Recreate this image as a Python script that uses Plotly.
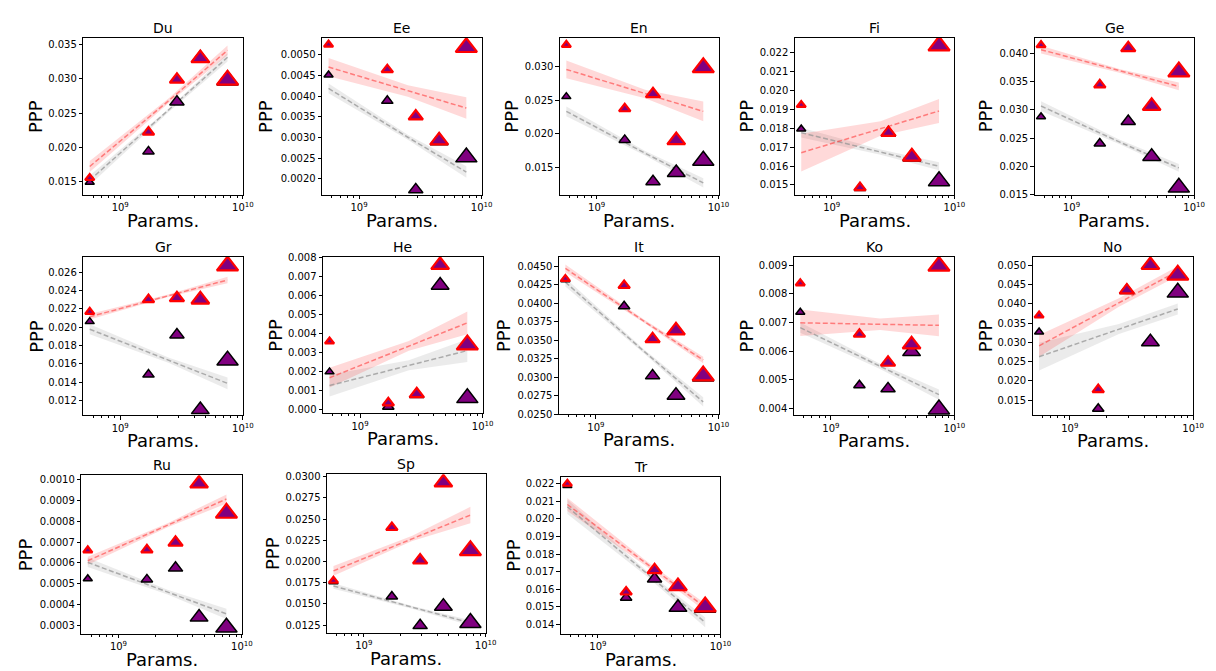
import math
import plotly.graph_objects as go

# ---------------- data ----------------
langs = ["Du", "Ee", "En", "Fi", "Ge", "Gr", "He", "It", "Ko", "No", "Ru", "Sp", "Tr"]
params = [5.64e8, 1.7e9, 2.9e9, 4.5e9, 7.5e9]
fit_x = [5.64e8, 2.5e9, 7.5e9]

red_ppp = [
    [0.01547, 0.02220, 0.02990, 0.03303, 0.02985],
    [0.00525, 0.004643, 0.003516, 0.002928, 0.005183],
    [0.03321, 0.02372, 0.02591, 0.01904, 0.02985],
    [0.01924, 0.01486, 0.01777, 0.01650, 0.02238],
    [0.04144, 0.03443, 0.04092, 0.03069, 0.03672],
    [0.02169, 0.02302, 0.02320, 0.02302, 0.02672],
    [0.003587, 0.000359, 0.000823, 0.007605, 0.003416],
    [0.04331, 0.04242, 0.03518, 0.03633, 0.03020],
    [0.00837, 0.00659, 0.00560, 0.00623, 0.00897],
    [0.03700, 0.01774, 0.04358, 0.05009, 0.04752],
    [0.000660, 0.000662, 0.000697, 0.000981, 0.000839],
    [0.01773, 0.02400, 0.02013, 0.02930, 0.02129],
    [0.02200, 0.01584, 0.01709, 0.01616, 0.01500],
]
purple_ppp = [
    [0.01485, 0.01937, 0.02663, 0.03300, 0.02980],
    [0.004516, 0.003889, 0.00174, 0.00292, 0.002524],
    [0.02552, 0.01909, 0.01291, 0.01422, 0.01602],
    [0.01797, 0.01484, 0.01775, 0.01648, 0.01521],
    [0.02879, 0.02408, 0.02799, 0.02178, 0.01632],
    [0.02062, 0.01483, 0.01918, 0.01099, 0.01638],
    [0.00199, 0.000153, 0.00080, 0.00654, 0.000617],
    [0.04320, 0.03962, 0.03020, 0.02753, 0.03010],
    [0.00736, 0.00481, 0.00469, 0.00598, 0.00397],
    [0.03271, 0.01278, 0.04350, 0.03015, 0.04298],
    [0.000523, 0.000520, 0.000575, 0.000338, 0.000289],
    [0.01760, 0.01587, 0.01246, 0.01471, 0.01277],
    [0.02190, 0.01552, 0.01659, 0.01496, 0.01495],
]
# fitted trend values read at fit_x (start, middle, end)
red_fit = [
    [0.01716, 0.02685, 0.03420],
    [0.004706, 0.004127, 0.003714],
    [0.02956, 0.02591, 0.02333],
    [0.01671, 0.01799, 0.01892],
    [0.04063, 0.03684, 0.03414],
    [0.02115, 0.02347, 0.02517],
    [0.001681, 0.003357, 0.004566],
    [0.04473, 0.03752, 0.03233],
    [0.00699, 0.00694, 0.00690],
    [0.02912, 0.04037, 0.04855],
    [0.000610, 0.000781, 0.000907],
    [0.01889, 0.02271, 0.02547],
    [0.02082, 0.01744, 0.01497],
]
gray_fit = [
    [0.01514, 0.02543, 0.03317],
    [0.004190, 0.003008, 0.002166],
    [0.02333, 0.01711, 0.01271],
    [0.01777, 0.01674, 0.01599],
    [0.03069, 0.02428, 0.01977],
    [0.01979, 0.01638, 0.01387],
    [0.001269, 0.002334, 0.003107],
    [0.04287, 0.03342, 0.02665],
    [0.00682, 0.00547, 0.00448],
    [0.02630, 0.03348, 0.03870],
    [0.000602, 0.000459, 0.000354],
    [0.01711, 0.01459, 0.01277],
    [0.02069, 0.01689, 0.01411],
]
# confidence-band half widths read at fit_x
red_ci = [
    [0.0008, 0.00034, 0.0007],
    [0.00022, 0.00014, 0.00026],
    [0.00132, 0.00063, 0.00146],
    [0.0010, 0.00038, 0.00064],
    [0.00069, 0.00034, 0.00069],
    [0.00029, 0.00014, 0.00036],
    [0.00052, 0.00026, 0.0006],
    [0.00053, 0.00022, 0.00044],
    [0.00046, 0.0002, 0.00038],
    [0.00282, 0.00111, 0.00128],
    [0.000019, 0.0000095, 0.000022],
    [0.00058, 0.00031, 0.00097],
    [0.00037, 0.00015, 0.00022],
]
gray_ci = [
    [0.0007, 0.00024, 0.0006],
    [0.00012, 0.000063, 0.00014],
    [0.00073, 0.00034, 0.00068],
    [0.00026, 0.00014, 0.00021],
    [0.00086, 0.0004, 0.00069],
    [0.00054, 0.00029, 0.00065],
    [0.00057, 0.00026, 0.0006],
    [0.00058, 0.00027, 0.00062],
    [0.00018, 0.00009, 0.00018],
    [0.0036, 0.00128, 0.00145],
    [0.000022, 0.000011, 0.000025],
    [0.00031, 0.00015, 0.00031],
    [0.00041, 0.00015, 0.00028],
]

# ---------------- layout / style ----------------
W, H = 1216, 671
x_dom_px = [(76, 237), (317, 478), (557, 717), (794, 955), (1036, 1197),
            (76, 237), (318, 479), (556, 717), (793, 955), (1034, 1196),
            (74, 236), (322, 482), (558, 719)]
y_dom_px = [(25, 185)] * 5 + [(248, 409), (248, 407), (248, 408), (248, 409), (248, 409)] + \
           [(470, 631), (469, 630), (472, 631)]
y_ranges = [
    [0.01298, 0.03606], [0.001611, 0.00542], [0.01091, 0.03429], [0.01447, 0.02281],
    [0.0150, 0.04276], [0.01038, 0.02769], [-0.00019, 0.00803], [0.02497, 0.04629],
    [0.00376, 0.00929], [0.01107, 0.05222], [0.000259, 0.001021], [0.01161, 0.03027],
    [0.01347, 0.02237],
]
y_dticks = [0.005, 0.0005, 0.005, 0.001, 0.005, 0.002, 0.001, 0.0025, 0.001, 0.005,
            0.0001, 0.0025, 0.001]
y_formats = [".3f", ".4f", ".3f", ".3f", ".3f", ".3f", ".3f", ".4f", ".3f", ".3f",
             ".4f", ".4f", ".3f"]
ylabel_offset = [48, 57, 49, 49, 50, 48, 48, 56, 48, 48, 56, 55, 48]
marker_sizes = [8, 10, 12.5, 15.5, 18.5]
minor_x = [6e8, 7e8, 8e8, 9e8, 2e9, 3e9, 4e9, 5e9, 6e9, 7e9, 8e9, 9e9]

FONT = "DejaVu Sans"
RED_LINE = "rgba(255,60,60,0.6)"
RED_BAND = "rgba(255,0,0,0.15)"
GRAY_LINE = "rgba(150,150,150,0.75)"
GRAY_BAND = "rgba(128,128,128,0.16)"
PURPLE = "#800080"

fig = go.Figure()
annotations = []
layout_axes = {}

for i, lang in enumerate(langs):
    n = i + 1
    xs = "x" if n == 1 else f"x{n}"
    ys = "y" if n == 1 else f"y{n}"
    xa = "xaxis" if n == 1 else f"xaxis{n}"
    ya = "yaxis" if n == 1 else f"yaxis{n}"
    x0, x1 = x_dom_px[i]
    t, b = y_dom_px[i]

    layout_axes[xa] = dict(
        domain=[x0 / W, x1 / W], anchor=ys, type="log",
        range=[math.log10(5e8), 10], tickvals=[1e9, 1e10],
        ticktext=["10<sup>9</sup>", "10<sup>10</sup>"],
        ticks="outside", ticklen=3.5, tickwidth=0.8, tickcolor="black",
        showline=True, mirror=True, linecolor="black", linewidth=1,
        showgrid=False, zeroline=False,
        tickfont=dict(family=FONT, size=10, color="black"),
        minor=dict(tickvals=minor_x, ticks="outside", ticklen=2,
                   tickwidth=0.6, tickcolor="black", showgrid=False),
    )
    layout_axes[ya] = dict(
        domain=[1 - b / H, 1 - t / H], anchor=xs, range=y_ranges[i],
        tick0=0, dtick=y_dticks[i], tickformat=y_formats[i],
        ticks="outside", ticklen=3.5, tickwidth=0.8, tickcolor="black",
        showline=True, mirror=True, linecolor="black", linewidth=1,
        showgrid=False, zeroline=False,
        tickfont=dict(family=FONT, size=10, color="black"),
    )

    # bands
    for fit, ci, col in ((gray_fit[i], gray_ci[i], GRAY_BAND), (red_fit[i], red_ci[i], RED_BAND)):
        hi = [f + c for f, c in zip(fit, ci)]
        lo = [f - c for f, c in zip(fit, ci)]
        fig.add_trace(go.Scatter(
            x=fit_x + fit_x[::-1], y=hi + lo[::-1], xaxis=xs, yaxis=ys,
            mode="lines", fill="toself", fillcolor=col, line=dict(width=0),
            hoverinfo="skip", showlegend=False))
    # fit lines
    for fit, col in ((gray_fit[i], GRAY_LINE), (red_fit[i], RED_LINE)):
        fig.add_trace(go.Scatter(
            x=fit_x, y=fit, xaxis=xs, yaxis=ys, mode="lines",
            line=dict(color=col, width=1.5, dash="5px,2.5px"),
            hoverinfo="skip", showlegend=False))
    # markers
    fig.add_trace(go.Scatter(
        x=params, y=purple_ppp[i], xaxis=xs, yaxis=ys, mode="markers",
        marker=dict(symbol="triangle-up", size=marker_sizes, color=PURPLE, opacity=1,
                    line=dict(color="black", width=1.5)),
        showlegend=False, name=lang + " purple"))
    fig.add_trace(go.Scatter(
        x=params, y=red_ppp[i], xaxis=xs, yaxis=ys, mode="markers",
        marker=dict(symbol="triangle-up", size=marker_sizes, color=PURPLE, opacity=1,
                    line=dict(color="red", width=2.2)),
        showlegend=False, name=lang + " red"))

    cx = (x0 + x1) / 2 / W
    annotations.append(dict(text=lang, x=cx, y=1 - (t - 10) / H, xref="paper", yref="paper",
                            xanchor="center", yanchor="middle", showarrow=False,
                            font=dict(family=FONT, size=14, color="black")))
    annotations.append(dict(text="Params.", x=cx, y=1 - (b + 26) / H, xref="paper", yref="paper",
                            xanchor="center", yanchor="middle", showarrow=False,
                            font=dict(family=FONT, size=18, color="black")))
    annotations.append(dict(text="PPP", x=(x0 - ylabel_offset[i]) / W, y=1 - (t + b) / 2 / H,
                            xref="paper", yref="paper", textangle=-90,
                            xanchor="center", yanchor="middle", showarrow=False,
                            font=dict(family=FONT, size=18, color="black")))

fig.update_layout(
    width=W, height=H, margin=dict(l=0, r=0, t=0, b=0),
    paper_bgcolor="white", plot_bgcolor="white",
    annotations=annotations, showlegend=False, **layout_axes,
)

fig.write_html("out.html")
